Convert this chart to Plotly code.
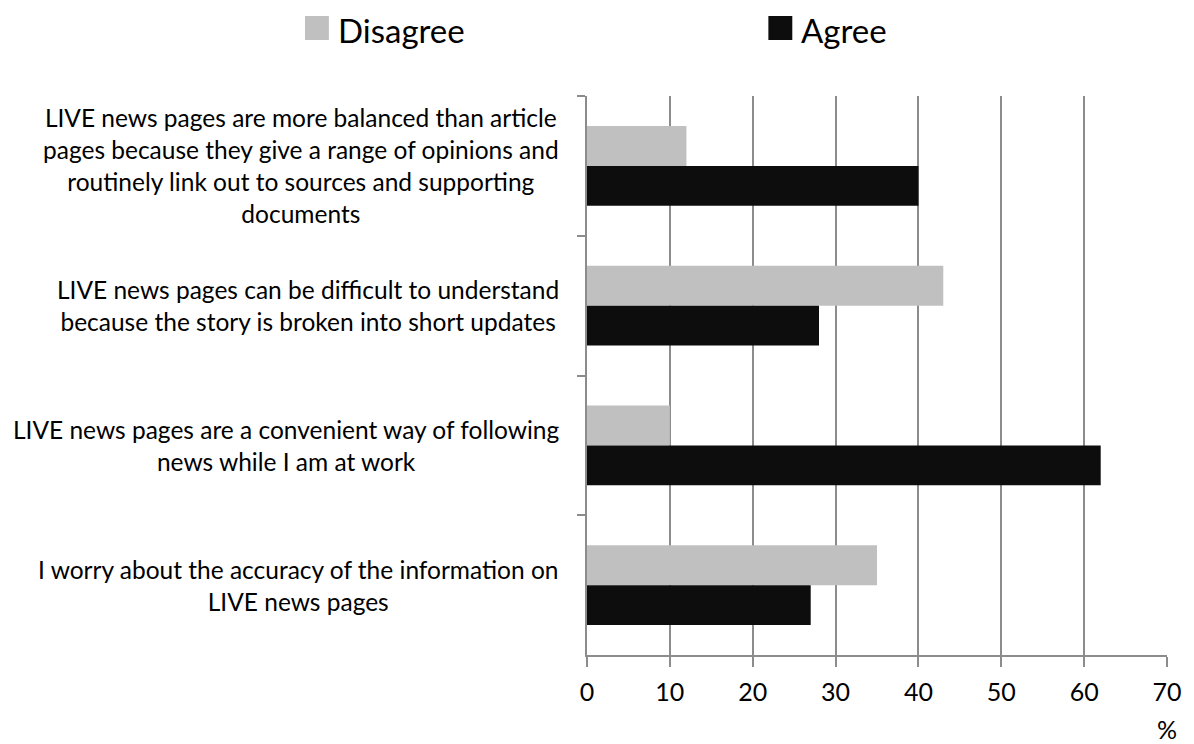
import plotly.graph_objects as go

categories = [
    "LIVE news pages are more balanced than article<br>pages because they give a range of opinions and<br>routinely link out to sources and supporting<br>documents",
    "LIVE news pages can be difficult to understand<br>because the story is broken into short updates",
    "LIVE news pages are a convenient way of following<br>news while I am at work",
    "I worry about the accuracy of the information on<br>LIVE news pages",
]
cat_ids = ["c1", "c2", "c3", "c4"]
disagree = [12, 43, 10, 35]
agree = [40, 28, 62, 27]
series_names = ["Disagree", "Agree"]
colors = ["#c0c0c0", "#0d0d0d"]
x_ticks = [0, 10, 20, 30, 40, 50, 60, 70]

FONT = "Lato"
OFF = 8  # default page body margin
W, H = 1194 - OFF, 744 - OFF
L, T = 587 - OFF, 96 - OFF
R = W - (1169 - OFF)
B = H - (655 - OFF)
PW, PH = W - L - R, H - T - B


def px_x(p):
    return (p - OFF - L) / PW


def px_y(p):
    return (H - B - (p - OFF)) / PH


fig = go.Figure()
for name, vals, col in zip(series_names, [disagree, agree], colors):
    fig.add_trace(go.Bar(
        y=cat_ids, x=vals, name=name, orientation="h",
        marker=dict(color=col, line=dict(width=0)),
        showlegend=False,
    ))

annotations = []
for cid, label in zip(cat_ids, categories):
    annotations.append(dict(
        x=0, xref="paper", xanchor="right", xshift=-26,
        y=cid, yref="y", yanchor="middle",
        text=label, align="center", showarrow=False,
        font=dict(family=FONT, size=24.5, color="#000000"),
    ))

shapes = []
legend_pos = [(304, 335), (769, 800)]
for (sx, tx), name, col in zip(legend_pos, series_names, colors):
    shapes.append(dict(
        type="rect", xref="paper", yref="paper",
        x0=px_x(sx), x1=px_x(sx + 24), y0=px_y(40), y1=px_y(16),
        fillcolor=col, line=dict(width=0),
    ))
    annotations.append(dict(
        x=px_x(tx), xref="paper", xanchor="left",
        y=px_y(OFF), yref="paper", yanchor="top",
        text=name, showarrow=False,
        font=dict(family=FONT, size=33, color="#000000"),
    ))

annotations.append(dict(
    x=1, xref="paper", xanchor="center",
    y=px_y(729), yref="paper", yanchor="middle",
    text="%", showarrow=False,
    font=dict(family=FONT, size=25, color="#000000"),
))

fig.update_layout(
    width=W, height=H,
    margin=dict(l=L, r=R, t=T, b=B, pad=0),
    paper_bgcolor="white", plot_bgcolor="white",
    barmode="group", bargap=0.43, bargroupgap=0,
    font=dict(family=FONT, color="#000000"),
    annotations=annotations, shapes=shapes,
    xaxis=dict(
        range=[0, 70], tickvals=x_ticks, ticktext=[str(v) for v in x_ticks],
        showgrid=True, gridcolor="#8c8c8c", gridwidth=1.5,
        showline=True, linecolor="#8c8c8c", linewidth=1.5,
        ticks="outside", ticklen=10, tickcolor="#8c8c8c", tickwidth=1.5,
        ticklabelstandoff=4,
        tickfont=dict(family=FONT, size=25, color="#000000"),
        zeroline=False, fixedrange=True,
    ),
    yaxis=dict(
        categoryorder="array", categoryarray=cat_ids, autorange="reversed",
        showticklabels=False, showgrid=False,
        showline=True, linecolor="#8c8c8c", linewidth=1.5,
        ticks="outside", tickson="boundaries", ticklen=8,
        tickcolor="#8c8c8c", tickwidth=1.5, fixedrange=True,
    ),
)

fig.write_html("out.html")
